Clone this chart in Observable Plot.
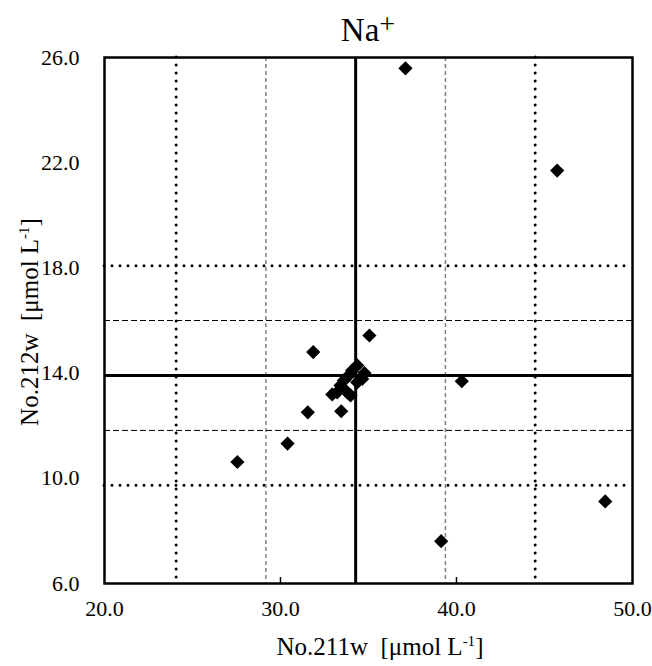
<!DOCTYPE html>
<html>
<head>
<meta charset="utf-8">
<script src="https://cdn.jsdelivr.net/npm/d3@7"></script>
<script src="https://cdn.jsdelivr.net/npm/@observablehq/plot@0.6"></script>
<style>
  html, body { margin: 0; padding: 0; background: #fff; }
  svg text { font-family: "Liberation Serif", "Times New Roman", serif; }
</style>
</head>
<body>
<div id="chart"></div>
<script>
// Data
const x211 = [27.55, 30.4, 31.55, 31.86, 33.45, 35.05, 40.3, 48.45, 39.13, 37.1, 45.72,
              34.36, 34.77, 34.07, 33.88, 33.6, 33.41, 34.36, 34.64, 33.22, 33.79, 33.98, 32.94];
const y212 = [10.62, 11.32, 12.51, 14.8, 12.55, 15.43, 13.69, 9.12, 7.61, 25.59, 21.7,
              14.29, 14.0, 14.1, 13.91, 13.72, 13.53, 13.65, 13.78, 13.27, 13.27, 13.15, 13.19];
const xTicks = [20, 30, 40, 50];
const yTicks = [6, 10, 14, 18, 22, 26];
const xMedian = [34.27];
const yMedian = [13.91];
const xDashed = [29.17, 39.37];
const yDashed = [11.82, 16.0];
const xDotted = [24.07, 44.47];
const yDotted = [9.74, 18.08];

const points = x211.map((x, i) => ({x, y: y212[i]}));
const fmt = d3.format(".1f");

const chart = Plot.plot({
  width: 652,
  height: 666,
  marginLeft: 104,
  marginRight: 20,
  marginTop: 57,
  marginBottom: 83,
  style: {fontFamily: "Liberation Serif, serif", fontSize: "22px", color: "#000", background: "#fff"},
  x: {domain: [20, 50]},
  y: {domain: [6, 26]},
  marks: [
    Plot.ruleX(xDotted, {stroke: "#000", strokeWidth: 3, strokeDasharray: "0,8", strokeLinecap: "round"}),
    Plot.ruleY(yDotted, {stroke: "#000", strokeWidth: 3, strokeDasharray: "0,8", strokeLinecap: "round"}),
    Plot.ruleX(xDashed, {stroke: "#808080", strokeWidth: 1.5, strokeDasharray: "4,3"}),
    Plot.ruleY(yDashed, {stroke: "#000", strokeWidth: 1, strokeDasharray: "6,3"}),
    Plot.ruleX(xMedian, {stroke: "#000", strokeWidth: 3}),
    Plot.ruleY(yMedian, {stroke: "#000", strokeWidth: 3}),
    Plot.axisX({ticks: xTicks, tickFormat: fmt, tickSize: 0, tickPadding: 17, label: null, fontSize: 22}),
    Plot.axisY({ticks: yTicks, tickFormat: fmt, tickSize: 0, tickPadding: 25, label: null, fontSize: 22}),
    Plot.axisX({ticks: [30, 40], tickSize: -6, text: null, label: null, strokeWidth: 1.5}),
    Plot.frame({stroke: "#000", strokeWidth: 2.5}),
    Plot.dot(points, {x: "x", y: "y", symbol: "diamond2", r: 6.4, fill: "#000", stroke: "none"})
  ]
});

document.getElementById("chart").appendChild(chart);

// Titles with superscripts
const svg = d3.select(chart);
const t = svg.append("text")
  .attr("x", 368).attr("y", 41)
  .attr("text-anchor", "middle")
  .style("font-size", "33px")
  .style("fill", "#000");
t.append("tspan").text("Na");
t.append("tspan").attr("dy", "-8").style("font-size", "28px").text("+");

const xl = svg.append("text")
  .attr("x", 380).attr("y", 655)
  .attr("text-anchor", "middle")
  .style("font-size", "25px")
  .style("fill", "#000")
  .attr("xml:space", "preserve");
xl.append("tspan").text("No.211w  [μmol L");
xl.append("tspan").attr("dy", "-9").style("font-size", "15px").text("-1");
xl.append("tspan").attr("dy", "9").text("]");

const yl = svg.append("text")
  .attr("transform", "translate(38,322) rotate(-90)")
  .attr("text-anchor", "middle")
  .style("font-size", "25px")
  .style("fill", "#000")
  .attr("xml:space", "preserve");
yl.append("tspan").text("No.212w  [μmol L");
yl.append("tspan").attr("dy", "-9").style("font-size", "15px").text("-1");
yl.append("tspan").attr("dy", "9").text("]");
</script>
</body>
</html>
